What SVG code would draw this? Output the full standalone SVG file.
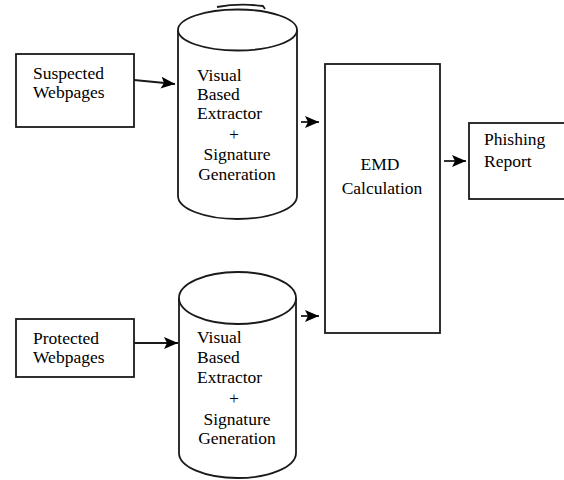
<svg xmlns="http://www.w3.org/2000/svg" width="564" height="480" viewBox="0 0 564 480">
<defs>
<marker id="ah" markerWidth="14" markerHeight="12" refX="14" refY="6" orient="auto" markerUnits="userSpaceOnUse">
<path d="M0,0 L14,6 L0,12 L3,6 Z" fill="#000"/>
</marker>
<style>
.s{fill:#fff;stroke:#1a1a1a;stroke-width:1.8}
.t{font-family:"Liberation Serif","Times New Roman",serif;font-size:17.5px;fill:#000}
.c{text-anchor:middle}
.l{stroke:#1a1a1a;stroke-width:1.8;fill:none}
</style>
</defs>
<rect width="564" height="480" fill="#fff"/>
<g id="suspected">
<rect class="s" x="16" y="54" width="118" height="73"/>
<text class="t" x="33" y="79">Suspected</text>
<text class="t" x="33" y="98">Webpages</text>
</g>
<g id="protected">
<rect class="s" x="16" y="319" width="118" height="58"/>
<text class="t" x="33" y="344">Protected</text>
<text class="t" x="33" y="363">Webpages</text>
</g>
<g id="extractor1">
<path class="s" d="M178,30 L178,196 A59.5,23 0 0 0 297,196 L297,30"/>
<ellipse class="s" cx="237.5" cy="30" rx="59.5" ry="20.5"/>
<path class="l" d="M217,7 Q240,3 263,6 L265,9" stroke-width="1.2"/>
<text class="t" x="197" y="81">Visual</text>
<text class="t" x="197" y="100">Based</text>
<text class="t" x="197" y="119">Extractor</text>
<text class="t c" x="234" y="140">+</text>
<text class="t c" x="237" y="160">Signature</text>
<text class="t c" x="237" y="180">Generation</text>
</g>
<g id="extractor2">
<path class="s" d="M179,298 L179,453 A58.5,25 0 0 0 296,453 L296,298"/>
<ellipse class="s" cx="237.5" cy="298" rx="58.5" ry="26"/>
<text class="t" x="197" y="343">Visual</text>
<text class="t" x="197" y="363">Based</text>
<text class="t" x="197" y="383">Extractor</text>
<text class="t c" x="234" y="404">+</text>
<text class="t c" x="237" y="425">Signature</text>
<text class="t c" x="237" y="444">Generation</text>
</g>
<g id="emd">
<rect class="s" x="325" y="64" width="115" height="269"/>
<text class="t c" x="380" y="170">EMD</text>
<text class="t c" x="382" y="194">Calculation</text>
</g>
<g id="report">
<rect class="s" x="469" y="123" width="110" height="76"/>
<text class="t" x="484" y="145">Phishing</text>
<text class="t" x="484" y="167">Report</text>
</g>
<g id="connectors">
<line class="l" x1="134" y1="80" x2="175" y2="84" marker-end="url(#ah)"/>
<line class="l" x1="134" y1="343" x2="178" y2="343" marker-end="url(#ah)"/>
<line class="l" x1="301" y1="122" x2="319" y2="122" marker-end="url(#ah)"/>
<line class="l" x1="301" y1="316" x2="319" y2="316" marker-end="url(#ah)"/>
<line class="l" x1="444" y1="161" x2="466" y2="161" marker-end="url(#ah)"/>
</g>
</svg>
